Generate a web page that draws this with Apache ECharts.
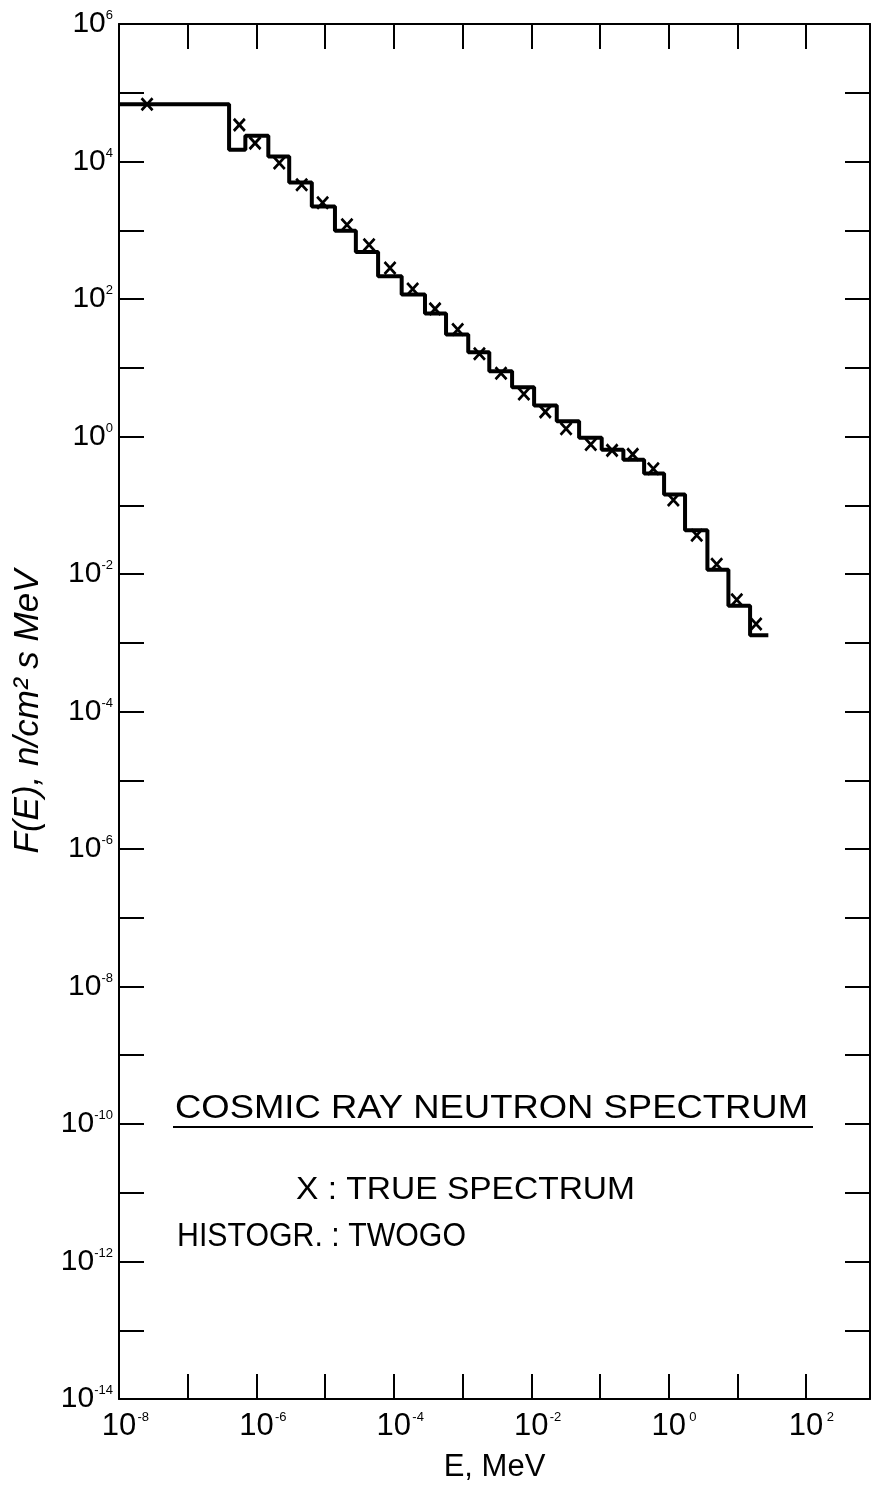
<!DOCTYPE html>
<html>
<head>
<meta charset="utf-8">
<script src="https://cdn.jsdelivr.net/npm/echarts@6/dist/echarts.min.js"></script>
<style>
html,body{margin:0;padding:0;background:#fff;}
#chart{width:872px;height:1488px;}
</style>
</head>
<body>
<div id="chart"></div>
<script>
// Histogram (TWOGO) bin edges in MeV and group values F(E)
const binEdges = [1e-8, 4.0e-7, 6.9e-7, 1.49e-6, 3.0e-6, 6.4e-6, 1.39e-5, 2.8e-5, 5.9e-5, 1.30e-4, 2.84e-4, 5.75e-4, 1.21e-3, 2.45e-3, 5.26e-3, 1.10e-2, 2.35e-2, 4.97e-2, 0.106, 0.219, 0.439, 0.857, 1.73, 3.66, 7.4, 15.3, 28.2];
const histValues = [6.8e4, 1.48e4, 2.36e4, 1.18e4, 4.95e3, 2.22e3, 984, 483, 214, 116, 61.4, 30.4, 16.8, 8.9, 5.2, 2.83, 1.67, 0.96, 0.64, 0.46, 0.29, 0.143, 0.0433, 0.0115, 0.00344, 0.00129];
// True spectrum points (X)
const trueE = [2.56e-8, 5.64e-7, 9.55e-7, 2.15e-6, 4.56e-6, 9.2e-6, 2.08e-5, 4.36e-5, 8.8e-5, 1.88e-4, 3.98e-4, 8.5e-4, 1.76e-3, 3.63e-3, 7.8e-3, 1.60e-2, 3.21e-2, 7.35e-2, 0.150, 0.300, 0.598, 1.17, 2.56, 5.0, 9.8, 18.7];
const trueF = [6.8e4, 3.41e4, 1.85e4, 9.5e3, 4.59e3, 2.51e3, 1.2e3, 617, 283, 140, 71.8, 36, 16, 8.3, 4.16, 2.28, 1.30, 0.767, 0.628, 0.55, 0.340, 0.119, 0.0366, 0.0139, 0.00421, 0.00187];

const xMin = 1e-8, xMax = 851, yMin = 1e-14, yMax = 1e6;
const titleText = 'COSMIC RAY NEUTRON SPECTRUM';
const legendLine1 = 'X : TRUE SPECTRUM';
const legendLine2 = 'HISTOGR. : TWOGO';

const stepData = [];
for (let i = 0; i < histValues.length; i++) {
  stepData.push([binEdges[i], histValues[i]]);
  stepData.push([binEdges[i + 1], histValues[i]]);
}
const markerData = trueE.map((e, i) => [e, trueF[i]]);

const FONT = '"Liberation Sans", Arial, sans-serif';
function expOf(v) { return Math.round(Math.log10(v)); }
function fitScale(text, font, target) {
  const c = document.createElement('canvas').getContext('2d');
  c.font = font;
  return target / c.measureText(text).width;
}

const xLabelFmt = function (v) {
  const e = expOf(v);
  if (Math.abs(Math.log10(v) - e) > 1e-6) return '';
  if (e % 2 !== 0) return '';
  return '{p|}{b|10}{s|' + e + '}';
};
const yLabelFmt = function (v) {
  const e = expOf(v);
  if (Math.abs(Math.log10(v) - e) > 1e-6) return '';
  if (e % 2 !== 0) return '';
  return '{b|10}{s|' + e + '}';
};
const richX = {
  p: { width: 14 },
  b: { fontSize: 31, fontFamily: FONT, color: '#000' },
  s: { fontSize: 13, fontFamily: FONT, color: '#000', verticalAlign: 'top', width: 14 }
};
const richY = {
  b: { fontSize: 30, fontFamily: FONT, color: '#000' },
  s: { fontSize: 13, fontFamily: FONT, color: '#000', verticalAlign: 'top' }
};

const axisLine = { show: true, lineStyle: { color: '#000', width: 2 } };
const axisTick = { show: true, inside: true, length: 25, lineStyle: { color: '#000', width: 2 } };

const titleFont = '33px ' + FONT;
const leg1Font = '32px ' + FONT;
const leg2Font = '33px ' + FONT;

const chart = echarts.init(document.getElementById('chart'), null, { renderer: 'canvas' });
chart.setOption({
  backgroundColor: '#fff',
  animation: false,
  grid: { left: 119, right: 2, top: 24, bottom: 86, containLabel: false },
  xAxis: [
    {
      type: 'log', min: xMin, max: xMax, logBase: 10, interval: 1,
      position: 'bottom',
      axisLine: axisLine, axisTick: axisTick, splitLine: { show: false },
      axisLabel: { formatter: xLabelFmt, rich: richX, margin: 12, showMaxLabel: false },
      name: 'E, MeV', nameLocation: 'middle', nameGap: 53,
      nameTextStyle: { fontSize: 31, fontFamily: FONT, color: '#000' }
    },
    {
      type: 'log', min: xMin, max: xMax, logBase: 10, interval: 1,
      position: 'top',
      axisLine: axisLine, axisTick: axisTick, splitLine: { show: false },
      axisLabel: { show: false }
    }
  ],
  yAxis: [
    {
      type: 'log', min: yMin, max: yMax, logBase: 10, interval: 1,
      position: 'left',
      axisLine: axisLine, axisTick: axisTick, splitLine: { show: false },
      axisLabel: { formatter: yLabelFmt, rich: richY, margin: 6 },
      name: 'F(E), n/cm\u00B2 s MeV', nameLocation: 'middle', nameGap: 73,
      nameTextStyle: { fontSize: 35, fontFamily: FONT, fontStyle: 'italic', color: '#000' }
    },
    {
      type: 'log', min: yMin, max: yMax, logBase: 10, interval: 1,
      position: 'right',
      axisLine: axisLine, axisTick: axisTick, splitLine: { show: false },
      axisLabel: { show: false }
    }
  ],
  series: [
    {
      type: 'line', name: 'TWOGO', data: stepData, xAxisIndex: 0, yAxisIndex: 0,
      showSymbol: false, symbol: 'none',
      lineStyle: { color: '#000', width: 4 }, z: 3
    },
    {
      type: 'scatter', name: 'TRUE SPECTRUM', data: markerData, xAxisIndex: 0, yAxisIndex: 0,
      symbol: 'path://M0,0L10,12M10,0L0,12', symbolSize: [11, 12],
      itemStyle: { color: 'rgba(0,0,0,0)', borderColor: '#000', borderWidth: 2.8, opacity: 1 }, z: 4
    }
  ],
  graphic: [
    { type: 'text', x: 175, y: 1092, scaleX: fitScale(titleText, titleFont, 633),
      style: { text: titleText, font: titleFont, fill: '#000', verticalAlign: 'top' } },
    { type: 'line', shape: { x1: 173, y1: 1127, x2: 813, y2: 1127 }, style: { stroke: '#000', lineWidth: 2 } },
    { type: 'text', x: 296, y: 1174, scaleX: fitScale(legendLine1, leg1Font, 339),
      style: { text: legendLine1, font: leg1Font, fill: '#000', verticalAlign: 'top' } },
    { type: 'text', x: 177, y: 1220, scaleX: fitScale(legendLine2, leg2Font, 289),
      style: { text: legendLine2, font: leg2Font, fill: '#000', verticalAlign: 'top' } }
  ]
});
</script>
</body>
</html>
